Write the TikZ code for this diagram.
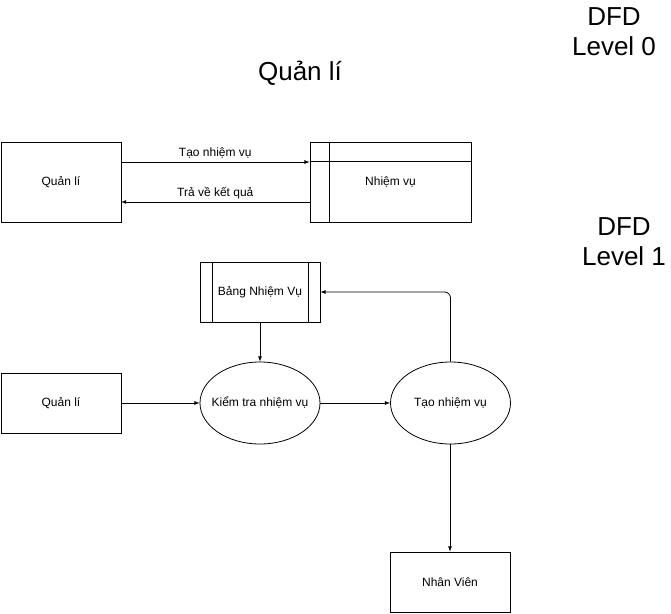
\documentclass[tikz,border=0pt]{standalone}
\usepackage{fontspec}
\setmainfont{Liberation Sans}
\usetikzlibrary{shapes.geometric}

\tikzset{
  entity/.style={draw,minimum width=120pt,minimum height=60pt,inner sep=0pt,font=\fontsize{12}{14}\selectfont},
  store/.style={draw,minimum width=120pt,minimum height=60pt,inner sep=0pt,font=\fontsize{12}{14}\selectfont},
  process/.style={draw,ellipse,minimum width=120pt,minimum height=82pt,inner sep=0pt,
    label={[font=\fontsize{12}{14}\selectfont]center:#1}},
  flow/.style={draw,-latex,line width=0.8pt},
  lbl/.style={font=\fontsize{12}{14}\selectfont,inner sep=1pt},
  big/.style={font=\fontsize{26}{30}\selectfont,align=center,inner sep=0pt}
}

\begin{document}
\begin{tikzpicture}[x=1pt,y=-1pt,line width=0.8pt]
  \useasboundingbox[fill=white] (0,0) rectangle (671,613);

  % titles
  \node[big] (title) at (300,73) {Quản lí};
  \node[big] (lv0) at (614,32) {DFD\\Level 0};
  \node[big] (lv1) at (624,242) {DFD\\Level 1};

  % level 0
  \node[entity,minimum height=80pt] (ql0) at (61,182) {Quản lí};
  \node[store,minimum width=161pt,minimum height=80pt] (nv0) at (390.5,182) {Nhiệm vụ};
  \draw ([xshift=20pt]nv0.north west) -- ([xshift=20pt]nv0.south west);
  \draw ([yshift=-20pt]nv0.north west) -- ([yshift=-20pt]nv0.north east);

  \coordinate (q1) at (121,162);
  \coordinate (q2) at (121,202);
  \draw[flow] (q1) -- (q1 -| nv0.west) node[lbl,midway,above=2pt] {Tạo nhiệm vụ};
  \draw[flow] (q2 -| nv0.west) -- (q2) node[lbl,midway,above=2pt] {Trả về kết quả};

  % level 1
  \node[store] (bang) at (260,292) {Bảng Nhiệm Vụ};
  \draw ([xshift=13pt]bang.north west) -- ([xshift=13pt]bang.south west);
  \draw ([xshift=-12pt]bang.north east) -- ([xshift=-12pt]bang.south east);

  \node[entity] (ql1) at (61,403) {Quản lí};
  \node[process=Kiểm tra nhiệm vụ] (kt) at (260,403) {};
  \node[process=Tạo nhiệm vụ] (tao) at (450.5,403) {};
  \node[entity] (nhan) at (450,582) {Nhân Viên};

  \draw[flow] (bang) -- (kt);
  \draw[flow] (ql1.east) -- (kt.west);
  \draw[flow] (kt.east) -- (tao.west);
  \draw[flow,rounded corners=6pt] (tao.north) |- (bang.east);
  \draw[flow] (tao.south -| nhan.north) -- (nhan.north);
\end{tikzpicture}
\end{document}
